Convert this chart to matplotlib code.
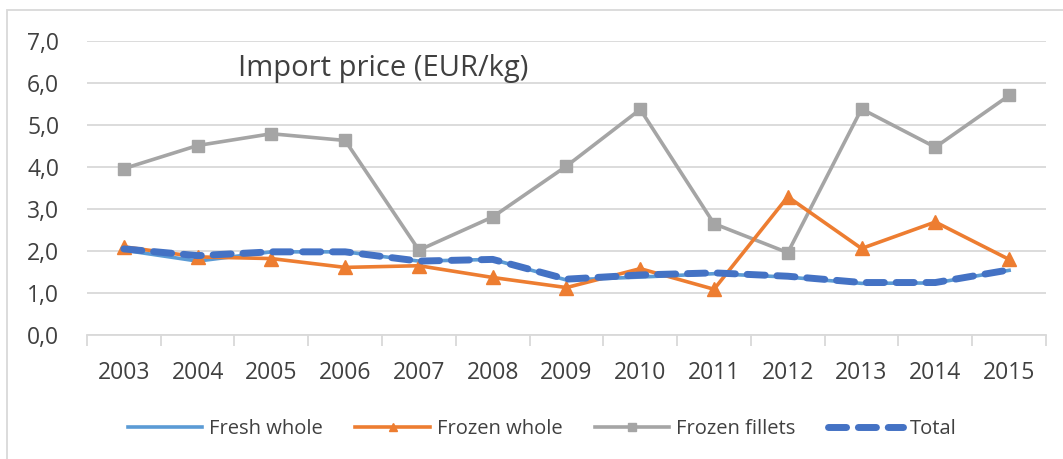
import numpy as np
import matplotlib.pyplot as plt
from matplotlib.patches import Rectangle

plt.rcParams['font.family'] = ['Open Sans', 'DejaVu Sans']

# datos
anios = ["2003", "2004", "2005", "2006", "2007", "2008", "2009",
         "2010", "2011", "2012", "2013", "2014", "2015"]
fresh_whole = [2.02, 1.76, 1.98, 1.98, 1.76, 1.80, 1.31, 1.38, 1.46, 1.38, 1.23, 1.24, 1.54]
frozen_whole = [2.10, 1.86, 1.82, 1.61, 1.65, 1.37, 1.13, 1.58, 1.09, 3.29, 2.06, 2.69, 1.80]
frozen_fillets = [3.96, 4.51, 4.79, 4.63, 2.02, 2.81, 4.02, 5.37, 2.65, 1.96, 5.38, 4.47, 5.70]
total = [2.05, 1.89, 1.98, 1.98, 1.76, 1.80, 1.33, 1.43, 1.48, 1.40, 1.25, 1.25, 1.55]
y_ticks = [0, 1, 2, 3, 4, 5, 6, 7]
titulo = "Import price (EUR/kg)"

fig = plt.figure(figsize=(10.63, 4.59), dpi=100)
ax = fig.add_axes([0.0818, 0.270, 0.9022, 0.641])

x = np.arange(len(anios))
ax.plot(x, fresh_whole, color="#5b9bd5", lw=2.6, label="Fresh whole", zorder=3)
ax.plot(x, frozen_whole, color="#ed7d31", lw=2.6, marker="^", ms=10, label="Frozen whole", zorder=4)
ax.plot(x, frozen_fillets, color="#a5a5a5", lw=2.6, marker="s", ms=8.5, label="Frozen fillets", zorder=2)
ax.plot(x, total, color="#4472c4", lw=5, dashes=(2.6, 1.7), dash_capstyle="round",
        label="Total", zorder=5)

ax.set_xlim(-0.5, len(anios) - 0.5)
ax.set_ylim(0, 7)
ax.set_yticks(y_ticks)
ax.set_yticklabels([f"{v:.1f}".replace(".", ",") for v in y_ticks])
ax.set_xticks(x)
ax.set_xticklabels(anios)
ax.set_xticks(np.arange(-0.5, len(anios), 1.0), minor=True)
ax.tick_params(axis="x", which="major", length=0, pad=19, labelsize=16.5, colors="#404040")
ax.tick_params(axis="x", which="minor", length=8, width=1.3, color="#d9d9d9")
ax.tick_params(axis="y", length=0, pad=20, labelsize=16.5, colors="#404040")

ax.grid(axis="y", color="#d9d9d9", lw=1.3, zorder=0)
ax.set_axisbelow(True)
for s in ["top", "right", "left"]:
    ax.spines[s].set_visible(False)
ax.spines["bottom"].set_color("#d9d9d9")
ax.spines["bottom"].set_linewidth(1.3)

ax.text(0.157, 0.905, titulo, transform=ax.transAxes, fontsize=21,
        color="#404040", ha="left", va="center")

leg = fig.legend(loc="center", bbox_to_anchor=(0.51, 0.066), ncol=4, frameon=False,
                 fontsize=14.5, handlelength=3.7, columnspacing=1.6, handletextpad=0.35,
                 markerscale=0.6)
for t in leg.get_texts():
    t.set_color("#404040")

# marco exterior
fig.patches.append(Rectangle((7 / 1063, -0.1), 1.2, 1 - 10 / 459 + 0.1,
                             transform=fig.transFigure, fill=False,
                             edgecolor="#d9d9d9", lw=1.3))

fig.savefig("out.png", dpi=100)
